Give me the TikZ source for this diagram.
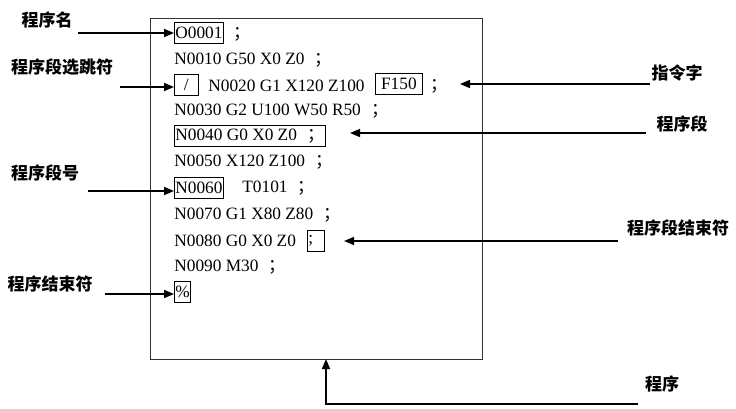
\documentclass[tikz,border=0pt]{standalone}
\usepackage{fontspec}
\setmainfont{Liberation Serif}
\newfontfamily\cjk{Noto Sans CJK SC}
\usetikzlibrary{arrows.meta}

\tikzset{
  code/.style={anchor=west, inner sep=0pt, font=\fontsize{17.3}{17.3}\selectfont},
  codebox/.style={code, draw, inner sep=1pt, minimum height=21pt},
  tag/.style={font=\cjk\bfseries\fontsize{17}{17}\selectfont},
  pointer/.style={line width=1.6pt, -{Triangle[length=10pt, width=8pt]}}
}
\newcommand{\fsemi}{\hspace{6pt}{\cjk ；}}

\begin{document}
\begin{tikzpicture}[x=1pt, y=-1pt, line width=0.8pt]
    \useasboundingbox (0,0) rectangle (736,409);

    % draw program frame
    \draw[color=black!80] (150,18) rectangle (482,359);
    \coordinate (frame) at (326,359);

    % draw code lines
    \node[codebox, minimum width=49pt] (o0001) at (174,33) {O0001};
    \node[code] (semi1) at (227,34) {\fsemi};
    \node[code] (n0010) at (174,60) {N0010 G50 X0 Z0 \fsemi};
    \node[codebox, minimum width=24pt] (skip) at (174,85) {/};
    \node[code] (n0020) at (208,86) {N0020 G1 X120 Z100};
    \node[codebox, minimum width=47pt] (f150) at (375,84) {F150};
    \node[code] (semi3) at (424,86) {\fsemi};
    \node[code] (n0030) at (174,111) {N0030 G2 U100 W50 R50 \fsemi};
    \node[codebox, minimum width=151pt] (n0040) at (174,136) {N0040 G0 X0 Z0 \fsemi\hspace{18pt}};
    \node[code] (n0050) at (174,162) {N0050 X120 Z100 \fsemi};
    \node[codebox, minimum width=48pt] (n0060) at (174,188) {N0060};
    \node[code] (t0101) at (242,188) {T0101 \fsemi};
    \node[code] (n0070) at (174,215) {N0070 G1 X80 Z80 \fsemi};
    \node[code] (n0080) at (174,241) {N0080 G0 X0 Z0};
    \node[codebox, inner sep=1pt] (endseg) at (307,241) {\makebox[15pt][l]{;}};
    \node[code] (n0090) at (174,267) {N0090 M30 \fsemi};
    \node[codebox, inner sep=1pt] (pct) at (174,292) {\%};

    % draw labels
    \node[tag] (name) at (47,20) {程序名};
    \node[tag] (skiptag) at (62,67) {程序段选跳符};
    \node[tag] (numtag) at (45,173) {程序段号};
    \node[tag] (endtag) at (50,284) {程序结束符};
    \node[tag] (word) at (677,73) {指令字};
    \node[tag] (block) at (682,124) {程序段};
    \node[tag] (blockend) at (678,228) {程序段结束符};
    \node[tag] (prog) at (662,384) {程序};

    % free ends of the pointers
    \coordinate (nametail) at (78,33);
    \coordinate (skiptail) at (120,87);
    \coordinate (numtail) at (88,191);
    \coordinate (endtail) at (105,294);
    \coordinate (wordtail) at (650,84);
    \coordinate (wordtip) at (460,84);
    \coordinate (blocktail) at (646,133);
    \coordinate (blocktip) at (350,133);
    \coordinate (blockendtail) at (618,241);
    \coordinate (blockendtip) at (344,241);
    \coordinate (progtail) at (638,404);

    % draw pointers
    \draw[pointer] (nametail) -- (nametail -| o0001.west);
    \draw[pointer] (skiptail) -- (skiptail -| skip.west);
    \draw[pointer] (numtail) -- (numtail -| n0060.west);
    \draw[pointer] (endtail) -- (endtail -| pct.west);
    \draw[pointer] (wordtail) -- (wordtip);
    \draw[pointer] (blocktail) -- (blocktip);
    \draw[pointer] (blockendtail) -- (blockendtip);
    \draw[pointer] (progtail) -| (frame);
\end{tikzpicture}
\end{document}
